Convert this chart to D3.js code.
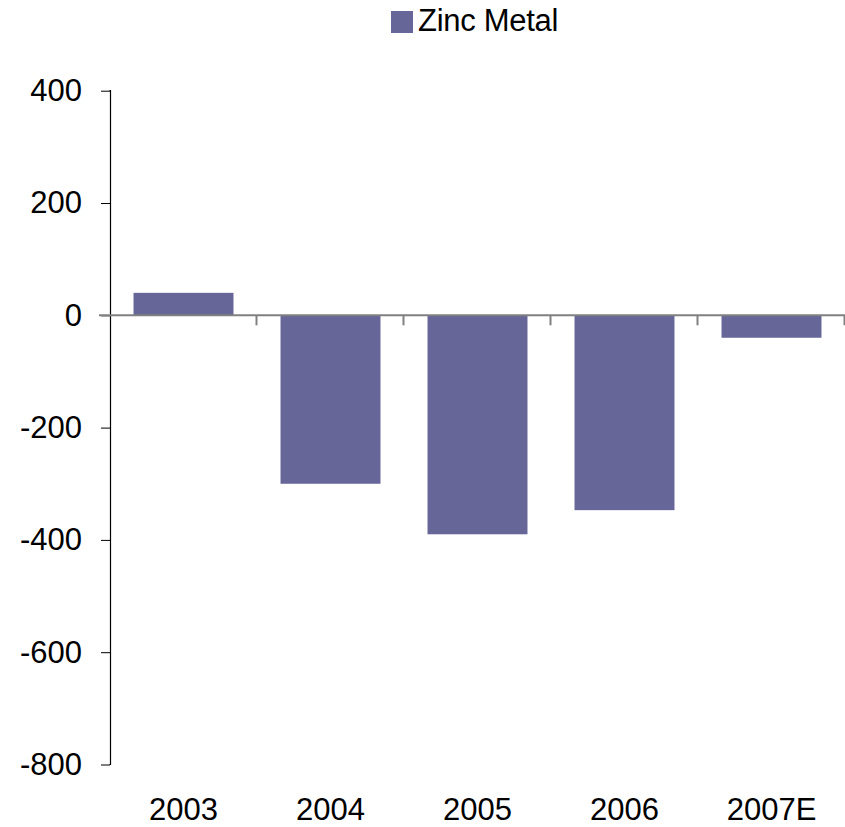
<!DOCTYPE html>
<html>
<head>
<meta charset="utf-8">
<script src="https://cdn.jsdelivr.net/npm/d3@7"></script>
<style>
  html, body { margin: 0; padding: 0; background: #fff; }
  svg { display: block; font-family: "Liberation Sans", Arial, sans-serif; }
</style>
</head>
<body>
<svg id="chart" width="845" height="827"></svg>
<script>
const categories = ["2003", "2004", "2005", "2006", "2007E"];
const zincMetal = [40, -300, -390, -347, -40];
const yTicks = [400, 200, 0, -200, -400, -600, -800];
const seriesName = "Zinc Metal";

const svg = d3.select("#chart");
const barColor = "#666699";
const fontSize = 31;

const x = d3.scaleBand().domain(categories).range([110, 845]).paddingInner(0.32).paddingOuter(0.16);
const y = d3.scaleLinear().domain([-800, 400]).range([764.5, 90.7]);

// bars
svg.append("g").selectAll("rect").data(categories).join("rect")
  .attr("x", d => x(d))
  .attr("width", x.bandwidth())
  .attr("y", (d, i) => y(Math.max(0, zincMetal[i])))
  .attr("height", (d, i) => Math.abs(y(zincMetal[i]) - y(0)))
  .attr("fill", barColor);

// y axis
const yAxis = svg.append("g").attr("transform", "translate(110,0)")
  .call(d3.axisLeft(y).tickValues(yTicks).tickSize(9).tickPadding(19).tickFormat(d => String(d)));
yAxis.select(".domain").attr("stroke", "#000").attr("d", `M-0.5,${y(400)}H0.5V${y(-800)}H-0.5`).attr("stroke-width", 1.2);
yAxis.selectAll(".tick line").attr("stroke", "#000");
yAxis.selectAll(".tick text").attr("font-size", fontSize).attr("fill", "#000")
  .attr("font-family", "'Liberation Sans', Arial, sans-serif");

// zero line (category axis)
const zy = y(0);
svg.append("line").attr("x1", 99).attr("x2", 845).attr("y1", zy).attr("y2", zy)
  .attr("stroke", "#808080").attr("stroke-width", 2);
const step = x.step();
const boundaries = categories.map((c, i) => 110 + step * (i + 1));
svg.append("g").selectAll("line").data(boundaries).join("line")
  .attr("x1", d => d - 0.5).attr("x2", d => d - 0.5)
  .attr("y1", zy).attr("y2", zy + 10)
  .attr("stroke", "#808080").attr("stroke-width", 2);

// x labels at bottom
svg.append("g").selectAll("text").data(categories).join("text")
  .attr("x", d => x(d) + x.bandwidth() / 2)
  .attr("y", 820)
  .attr("text-anchor", "middle")
  .attr("font-size", fontSize)
  .attr("fill", "#000")
  .text(d => d);

// legend
svg.append("rect").attr("x", 391).attr("y", 11).attr("width", 22).attr("height", 22).attr("fill", barColor);
svg.append("text").attr("x", 418).attr("y", 31).attr("font-size", fontSize).attr("fill", "#000")
  .attr("letter-spacing", -0.3).text(seriesName);
</script>
</body>
</html>
